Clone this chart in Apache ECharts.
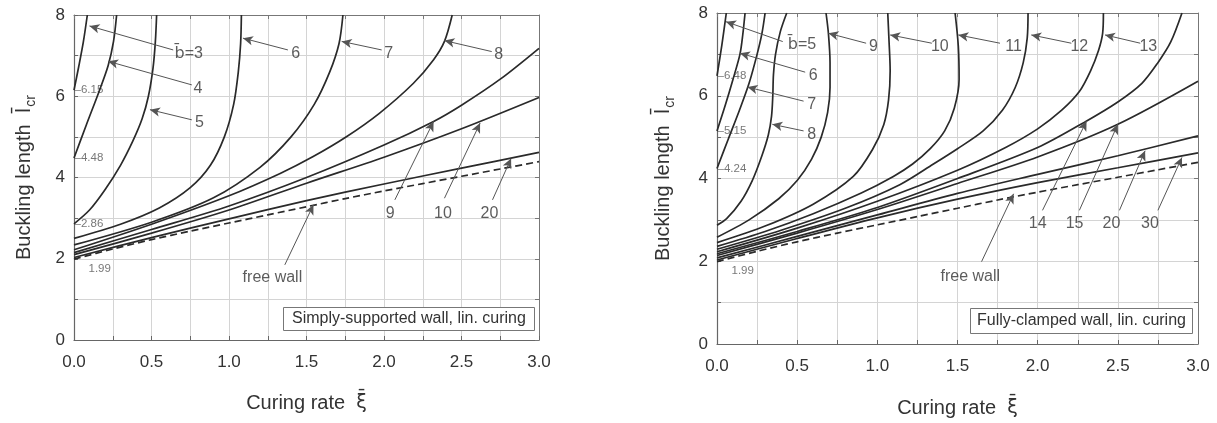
<!DOCTYPE html>
<html>
<head>
<meta charset="utf-8">
<script src="https://cdn.jsdelivr.net/npm/echarts/dist/echarts.min.js"></script>
<style>
  html, body { margin: 0; padding: 0; background: #fff; }
  #main { width: 1217px; height: 423px; }
</style>
</head>
<body>
<div id="main"></div>
<script>
// ---- simply-supported wall (left panel), [curing rate, buckling length] ----
var ssB3 = [[0, 6.15], [0.03, 6.72], [0.06, 7.33], [0.086, 8]];
var ssB4 = [[0, 4.48], [0.08, 5.3], [0.16, 6.1], [0.22, 6.75], [0.255, 7.35], [0.275, 8]];
var ssB5 = [[0, 2.86], [0.1, 3.2], [0.2, 3.7], [0.3, 4.3], [0.38, 4.9], [0.44, 5.45], [0.48, 6.0], [0.51, 6.7], [0.525, 7.35], [0.533, 8]];
var ssB6 = [[0, 2.5], [0.3, 2.85], [0.55, 3.25], [0.75, 3.75], [0.88, 4.3], [0.97, 5.0], [1.03, 5.8], [1.06, 6.6], [1.075, 7.3], [1.08, 8]];
var ssB7 = [[0, 2.34], [0.5, 2.9], [0.9, 3.5], [1.2, 4.25], [1.4, 5.0], [1.55, 5.8], [1.65, 6.6], [1.71, 7.3], [1.735, 8]];
var ssB8 = [[0, 2.22], [0.5, 2.85], [1.0, 3.55], [1.33, 4.1], [1.54, 4.51], [1.76, 5.01], [1.97, 5.58], [2.19, 6.32], [2.32, 6.9], [2.39, 7.35], [2.44, 8]];
var ssB9 = [[0, 2.15], [0.5, 2.72], [1.0, 3.3], [1.5, 4.0], [2.0, 4.8], [2.32, 5.38], [2.5, 5.78], [2.75, 6.42], [3.0, 7.18]];
var ssB10 = [[0, 2.10], [0.5, 2.63], [1.0, 3.2], [1.5, 3.86], [2.0, 4.5], [2.5, 5.2], [3.0, 5.97]];
var ssB20 = [[0, 2.03], [0.5, 2.52], [1.0, 2.98], [1.5, 3.43], [2.0, 3.84], [2.5, 4.23], [3.0, 4.62]];
var freeWall = [[0, 1.99], [0.25, 2.24], [0.5, 2.47], [0.75, 2.68], [1, 2.88], [1.25, 3.08], [1.5, 3.28], [1.75, 3.48], [2, 3.67], [2.25, 3.85], [2.5, 4.03], [2.75, 4.21], [3, 4.39]];

// ---- fully-clamped wall (right panel) ----
var fcB5 = [[0, 6.48], [0.03, 7.22], [0.058, 8]];
var fcB6 = [[0, 5.15], [0.05, 5.75], [0.1, 6.4], [0.143, 7.0], [0.16, 7.45], [0.175, 8]];
var fcB7 = [[0, 4.24], [0.07, 4.95], [0.14, 5.65], [0.2, 6.3], [0.25, 7.0], [0.28, 7.5], [0.3, 8]];
var fcB8 = [[0, 2.87], [0.06, 3.03], [0.15, 3.45], [0.22, 3.95], [0.28, 4.55], [0.32, 5.05], [0.34, 5.5], [0.348, 6.0], [0.352, 6.5], [0.365, 7.0], [0.395, 7.55], [0.435, 8]];
var fcB9 = [[0, 2.58], [0.2, 3.0], [0.385, 3.51], [0.5, 3.95], [0.59, 4.47], [0.65, 5.0], [0.69, 5.6], [0.705, 6.2], [0.705, 6.8], [0.695, 7.5], [0.68, 8]];
var fcB10 = [[0, 2.45], [0.3, 2.85], [0.6, 3.38], [0.85, 4.05], [0.97, 4.7], [1.04, 5.3], [1.07, 5.9], [1.08, 6.6], [1.072, 7.4], [1.065, 8]];
var fcB11 = [[0, 2.36], [0.3, 2.72], [0.6, 3.15], [0.9, 3.65], [1.1, 4.05], [1.22, 4.35], [1.33, 4.72], [1.42, 5.15], [1.48, 5.7], [1.51, 6.4], [1.505, 7.2], [1.485, 8]];
var fcB12 = [[0, 2.29], [0.4, 2.75], [0.8, 3.28], [1.14, 3.85], [1.35, 4.35], [1.5, 4.72], [1.66, 5.15], [1.78, 5.65], [1.86, 6.2], [1.91, 6.8], [1.935, 7.4], [1.94, 8]];
var fcB13 = [[0, 2.23], [0.5, 2.8], [1.0, 3.45], [1.5, 4.2], [1.8, 4.75], [2.0, 5.2], [2.15, 5.65], [2.26, 6.1], [2.33, 6.6], [2.38, 7.1], [2.405, 7.5], [2.41, 8]];
var fcB14 = [[0, 2.18], [0.5, 2.72], [1.0, 3.3], [1.5, 4.0], [2.0, 4.75], [2.3, 5.38], [2.5, 5.85], [2.65, 6.3], [2.75, 6.8], [2.83, 7.3], [2.9, 8]];
var fcB15 = [[0, 2.14], [0.5, 2.68], [1.0, 3.25], [1.5, 3.88], [2.0, 4.52], [2.5, 5.31], [3.0, 6.35]];
var fcB20 = [[0, 2.08], [0.5, 2.6], [1.0, 3.12], [1.5, 3.64], [2.0, 4.1], [2.5, 4.55], [3.0, 5.03]];
var fcB30 = [[0, 2.03], [0.5, 2.55], [1.0, 3.05], [1.5, 3.5], [2.0, 3.9], [2.5, 4.26], [3.0, 4.62]];

// tick labels
var xTicks = [0, 0.5, 1.0, 1.5, 2.0, 2.5, 3.0];
var yTicks = [0, 2, 4, 6, 8];

// start values written at the y axis
var ssStartVals = [6.15, 4.48, 2.86];
var fcStartVals = [6.48, 5.15, 4.24];
var freeStart = 1.99;

// annotation texts [text, x, y] and arrows [x tail, y tail, x head, y head]
var ssTexts = [['{o|b\u0304}=3', 0.74, 7.04], ['4', 0.80, 6.2], ['5', 0.81, 5.35], ['6', 1.43, 7.06], ['7', 2.03, 7.06], ['8', 2.74, 7.02],
  ['9', 2.04, 3.12], ['10', 2.38, 3.12], ['20', 2.68, 3.12], ['free wall', 1.28, 1.53]];
var ssArrows = [[0.64, 7.14, 0.10, 7.73], [0.76, 6.28, 0.22, 6.86], [0.76, 5.42, 0.49, 5.67], [1.38, 7.14, 1.09, 7.43], [1.985, 7.14, 1.727, 7.35],
  [2.695, 7.10, 2.39, 7.37], [2.07, 3.45, 2.32, 5.38], [2.39, 3.49, 2.62, 5.34], [2.70, 3.45, 2.82, 4.47], [1.36, 1.85, 1.545, 3.33]];
var fcTexts = [['{o|b\u0304}=5', 0.53, 7.23], ['6', 0.60, 6.49], ['7', 0.59, 5.79], ['8', 0.59, 5.07], ['9', 0.975, 7.19], ['10', 1.39, 7.19],
  ['11', 1.85, 7.19], ['12', 2.26, 7.19], ['13', 2.69, 7.19], ['14', 2.0, 2.91], ['15', 2.23, 2.91], ['20', 2.46, 2.91], ['30', 2.70, 2.91],
  ['free wall', 1.58, 1.63]];
var fcArrows = [[0.41, 7.31, 0.056, 7.79], [0.55, 6.57, 0.143, 7.03], [0.54, 5.87, 0.19, 6.21], [0.54, 5.15, 0.345, 5.31], [0.93, 7.27, 0.695, 7.51],
  [1.34, 7.27, 1.08, 7.47], [1.765, 7.27, 1.505, 7.47], [2.21, 7.27, 1.96, 7.47], [2.64, 7.27, 2.42, 7.47],
  [2.03, 3.23, 2.305, 5.39], [2.26, 3.23, 2.50, 5.31], [2.51, 3.23, 2.67, 4.67], [2.75, 3.23, 2.9, 4.51], [1.65, 1.99, 1.85, 3.63]];

var FONT = 'Liberation Sans, Arial, sans-serif';
var INK = '#2a2a2a';
var GRIDC = '#d4d4d4';

var chart = echarts.init(document.getElementById('main'));

function bottomAxis(gi, gap) {
  return {
    type: 'value', gridIndex: gi, min: xTicks[0], max: xTicks[xTicks.length - 1], interval: 0.5,
    axisLine: { show: true, lineStyle: { color: '#666', width: 1.2 } },
    axisTick: { show: true, inside: true, length: 4, lineStyle: { color: '#666' } },
    minorTick: { show: true, splitNumber: 2, length: 4, lineStyle: { color: '#666' } },
    splitLine: { show: true, lineStyle: { color: GRIDC } },
    minorSplitLine: { show: true, lineStyle: { color: GRIDC } },
    axisLabel: { fontSize: 17, color: '#333', fontFamily: FONT, margin: 14, formatter: function (v) { return v.toFixed(1); } },
    name: '{a|Curing rate  }{b|\u03BE\u0304}', nameLocation: 'middle', nameGap: gap,
    nameTextStyle: { rich: { a: { fontSize: 20, color: '#333', fontFamily: FONT }, b: { fontSize: 19, color: '#333', fontFamily: 'DejaVu Sans' } } }
  };
}
function topAxis(gi) {
  return {
    type: 'value', gridIndex: gi, position: 'top', min: 0, max: 3, interval: 0.5,
    axisLine: { show: true, onZero: false, lineStyle: { color: '#777' } },
    axisTick: { show: true, inside: true, length: 4, lineStyle: { color: '#777' } },
    minorTick: { show: true, splitNumber: 2, length: 4, lineStyle: { color: '#777' } },
    splitLine: { show: false }, axisLabel: { show: false }
  };
}
function leftAxis(gi, gap) {
  return {
    type: 'value', gridIndex: gi, min: yTicks[0], max: yTicks[yTicks.length - 1], interval: 2,
    axisLine: { show: true, lineStyle: { color: '#666', width: 1.2 } },
    axisTick: { show: true, inside: true, length: 4, lineStyle: { color: '#666' } },
    minorTick: { show: true, splitNumber: 2, length: 4, lineStyle: { color: '#666' } },
    splitLine: { show: true, lineStyle: { color: GRIDC } },
    minorSplitLine: { show: true, lineStyle: { color: GRIDC } },
    axisLabel: { fontSize: 17, color: '#333', fontFamily: FONT, margin: 9 },
    name: '{a|Buckling length  }{b|l\u0304}{c|cr}', nameLocation: 'middle', nameGap: gap,
    nameTextStyle: { rich: {
      a: { fontSize: 20, color: '#333', fontFamily: FONT },
      b: { fontSize: 20, color: '#333', fontFamily: 'DejaVu Sans' },
      c: { fontSize: 14, color: '#333', fontFamily: FONT, padding: [13, 0, 0, 1] }
    } }
  };
}
function rightAxis(gi) {
  return {
    type: 'value', gridIndex: gi, position: 'right', min: 0, max: 8, interval: 2,
    axisLine: { show: true, onZero: false, lineStyle: { color: '#777' } },
    axisTick: { show: true, inside: true, length: 4, lineStyle: { color: '#777' } },
    minorTick: { show: true, splitNumber: 2, length: 4, lineStyle: { color: '#777' } },
    splitLine: { show: false }, axisLabel: { show: false }
  };
}

function curve(data, gi, dashed) {
  return {
    type: 'line', xAxisIndex: gi, yAxisIndex: gi, data: data, smooth: 0.3,
    showSymbol: false, symbol: 'none', silent: true,
    lineStyle: { color: INK, width: 1.7, type: dashed ? [7, 4] : 'solid' }
  };
}
function arrows(list, gi) {
  return {
    type: 'line', xAxisIndex: gi, yAxisIndex: gi, data: [], silent: true,
    markLine: {
      silent: true, symbol: ['none', 'arrow'], symbolSize: [7, 10], animation: false,
      lineStyle: { color: '#555', width: 1, type: 'solid' }, label: { show: false },
      data: list.map(function (a) { return [{ coord: [a[0], a[1]] }, { coord: [a[2], a[3]] }]; })
    }
  };
}
function texts(list, gi) {
  return {
    type: 'scatter', xAxisIndex: gi, yAxisIndex: gi, symbolSize: 0, silent: true,
    data: list.map(function (t) { return { value: [t[1], t[2]], label: { formatter: t[0] } }; }),
    label: { show: true, position: 'inside', fontSize: 16, color: '#333', fontFamily: FONT,
      rich: { o: { fontSize: 16, color: '#333', fontFamily: 'DejaVu Sans' } } }
  };
}
function startLabels(vals, gi) {
  var d = vals.map(function (v) { return { value: [0, v], label: { formatter: '\u2013' + v.toFixed(2), position: 'right', distance: 0 } }; });
  d.push({ value: [0, freeStart], label: { formatter: freeStart.toFixed(2), position: [15, 4] } });
  return {
    type: 'scatter', xAxisIndex: gi, yAxisIndex: gi, symbolSize: 1, silent: true, itemStyle: { color: 'rgba(0,0,0,0)' },
    data: d, label: { show: true, fontSize: 11.5, color: '#555', fontFamily: FONT }
  };
}

var ssCurves = [ssB3, ssB4, ssB5, ssB6, ssB7, ssB8, ssB9, ssB10, ssB20];
var fcCurves = [fcB5, fcB6, fcB7, fcB8, fcB9, fcB10, fcB11, fcB12, fcB13, fcB14, fcB15, fcB20, fcB30];

var series = [];
ssCurves.forEach(function (c) { series.push(curve(c, 0, false)); });
series.push(curve(freeWall, 0, true));
fcCurves.forEach(function (c) { series.push(curve(c, 1, false)); });
series.push(curve(freeWall, 1, true));
series.push(arrows(ssArrows, 0), arrows(fcArrows, 1));
series.push(texts(ssTexts, 0), texts(fcTexts, 1));
series.push(startLabels(ssStartVals, 0), startLabels(fcStartVals, 1));

var boxStyle = { fontSize: 16, color: '#333', fontWeight: 'normal', fontFamily: FONT };
chart.setOption({
  animation: false,
  backgroundColor: '#fff',
  title: [
    { text: 'Simply-supported wall, lin. curing', left: 283, top: 307, padding: [4, 9, 4, 9], borderColor: '#777', borderWidth: 1, backgroundColor: '#fff', textStyle: boxStyle },
    { text: 'Fully-clamped wall, lin. curing', left: 970, top: 308, padding: [5, 7, 5, 7], borderColor: '#777', borderWidth: 1, backgroundColor: '#fff', textStyle: boxStyle }
  ],
  grid: [
    { left: 74, top: 15, width: 465, height: 325 },
    { left: 717, top: 13, width: 481, height: 333 }
  ],
  xAxis: [bottomAxis(0, 53), bottomAxis(1, 54), topAxis(0), topAxis(1)],
  yAxis: [leftAxis(0, 36), leftAxis(1, 40), rightAxis(0), rightAxis(1)],
  series: series
});
</script>
</body>
</html>
